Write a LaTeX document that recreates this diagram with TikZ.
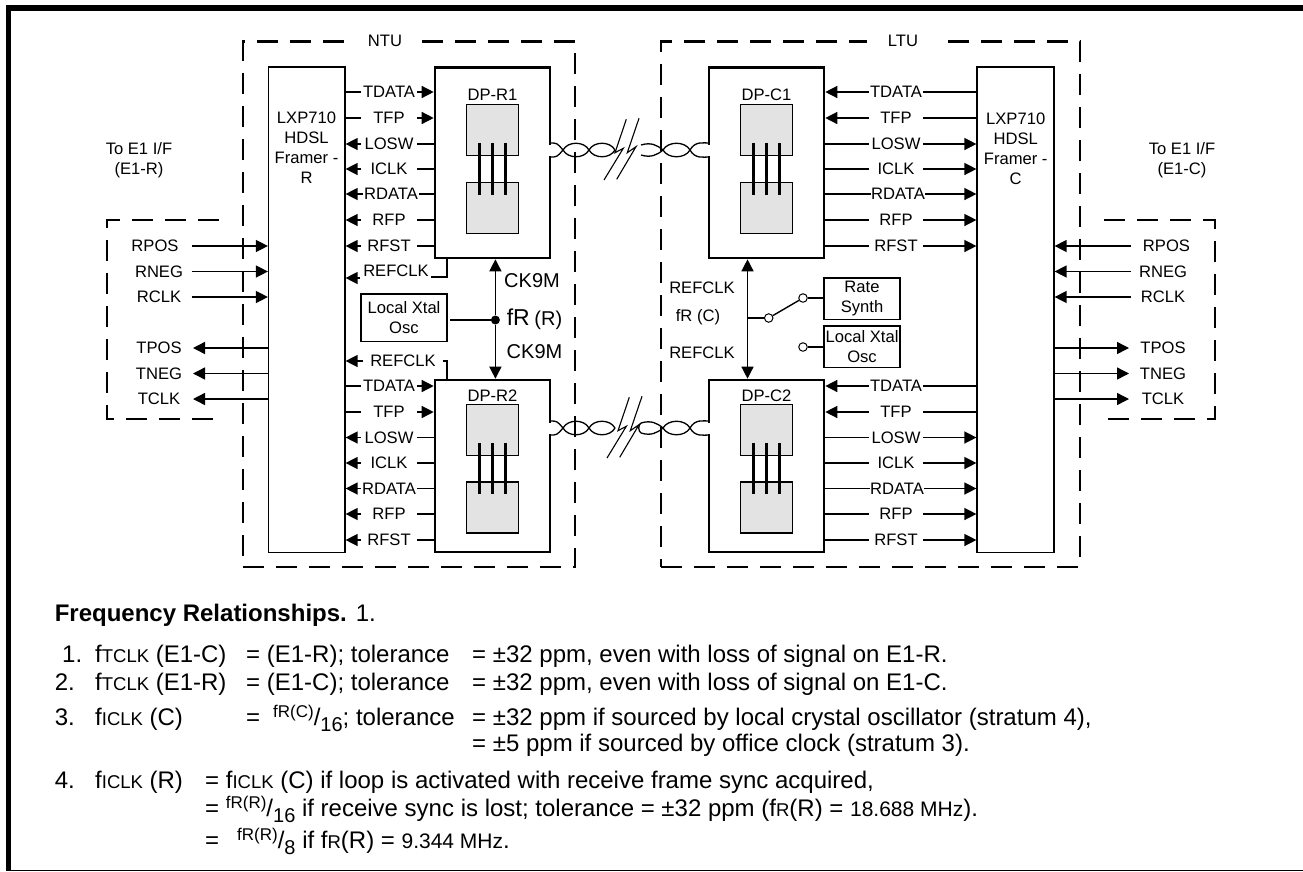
\documentclass[tikz,border=0pt]{standalone}
\usepackage{fontspec}
\setmainfont{Liberation Sans}
\usetikzlibrary{arrows.meta,
                positioning}
\newcommand{\labelfont}{\fontsize{16.6}{20}\selectfont}
\newcommand{\notefont}{\fontsize{24}{28}\selectfont}
\newcommand{\smallnote}[1]{{\fontsize{18.5}{28}\selectfont #1}}
\newcommand{\freqnote}[1]{{\fontsize{21}{28}\selectfont #1}}
\newcommand{\ratio}[2]{\raisebox{8pt}{\fontsize{17}{20}\selectfont #1}/\raisebox{-6pt}{\fontsize{20}{20}\selectfont #2}}
\tikzset{arrow/.style = {draw, line width=1.4pt, -{Triangle[length=12pt,width=12pt]}}}
\tikzset{double-arrow/.style =
   {draw,
    line width=1.4pt,
    {Triangle[length=12pt,width=12pt]}-{Triangle[length=12pt,width=12pt]}}}
\tikzset{wire/.style = {draw, line width=1.4pt}}
\tikzset{group-box/.style =
   {rectangle,
    draw,
    line width=2.2pt,
    dash pattern=on 21pt off 12pt}}
\tikzset{group-line/.style =
   {draw,
    line width=2.2pt,
    dash pattern=on 21pt off 12pt}}
\tikzset{framer/.style =
   {rectangle,
    draw,
    line width=1.2pt,
    minimum height=485.5pt}}
\tikzset{dp-block/.style =
   {rectangle,
    draw,
    line width=2.6pt,
    minimum width=115pt}}
\tikzset{chip/.style =
   {rectangle,
    draw,
    fill=black!11,
    line width=1.2pt,
    minimum width=52pt,
    minimum height=51pt}}
\tikzset{pin/.style = {draw, line width=2.2pt}}
\tikzset{source/.style =
   {rectangle,
    draw,
    line width=1.2pt,
    align=center,
    inner sep=0pt,
    font=\labelfont}}
\tikzset{text-label/.style = {inner sep=0pt, align=center, font=\labelfont}}
\tikzset{signal-label/.style =
   {inner sep=0pt,
    minimum width=56pt,
    text height=11.9pt,
    text depth=0pt,
    font=\labelfont}}
\tikzset{signal-labelC/.style = {signal-label, minimum width=54pt}}
\tikzset{terminal/.style = {circle, draw, line width=1pt, inner sep=0pt, minimum size=8.5pt}}
\tikzset{note/.style = {anchor=base west, inner sep=0pt, font=\notefont}}
\tikzset{twist-left/.pic = {
    \draw [white, line width=4pt] (0,-5.5) -- (0,5.5);
    \draw [line width=1.3pt] (0,-7) .. controls (7,-7) .. (13,0) .. controls (18,9) and (34,9) .. (39,0)
                             .. controls (44,-9) and (60,-9) .. (65,0);
    \draw [line width=1.3pt] (0,7) .. controls (7,7) .. (13,0) .. controls (18,-9) and (34,-9) .. (39,0)
                             .. controls (44,9) and (60,9) .. (65,0);}}
\tikzset{twist-right/.pic = {
    \draw [white, line width=4pt] (0,-5.5) -- (0,5.5);
    \draw [line width=1.3pt] (-68,-5) .. controls (-58,-8) and (-52,-5) .. (-46,0) .. controls (-41,9) and (-24,9) .. (-19,0)
                             .. controls (-14,-9) and (-6,-7) .. (0,-7);
    \draw [line width=1.3pt] (-68,5) .. controls (-58,8) and (-52,5) .. (-46,0) .. controls (-41,-9) and (-24,-9) .. (-19,0)
                             .. controls (-14,9) and (-6,7) .. (0,7);}}
\tikzset{bolt/.pic = {
    \draw [line width=1.1pt] (12.3,-30.7) -- (1,2.7) -- (9.3,-1.7) -- (-10,30);
    \draw [line width=1.1pt] (25,-31.7) -- (13.3,2.7) -- (22,-3.3) -- (2.7,29.3);}}

\begin{document}
\begin{tikzpicture}[x=1pt, y=-1pt]

    \useasboundingbox (0,0) rectangle (1303,871);

    % outer frame
    \fill (6,5) rectangle (1303,10.7);
    \fill (6,5) rectangle (11,871);
    \fill (6,869.5) rectangle (1303,871);

    % dashed groups
    \node [group-box, minimum width=332pt, minimum height=525.5pt] (ntu) at (409,304.25) {};
    \node [group-box, minimum width=419pt, minimum height=525.5pt] (ltu) at (870.5,304.25) {};
    \node [text-label, fill=white, minimum width=74pt, minimum height=8pt] (ntuLabel) at (385,41) {NTU};
    \node [text-label, fill=white, minimum width=72pt, minimum height=8pt] (ltuLabel) at (903,41) {LTU};
    \draw [group-line] (219,220) -| (107,419) -- (219,419);
    \draw [group-line] (1104,220) -| (1215,419) -- (1104,419);

    \node [text-label] (toE1R) at (139,160) {To E1 I/F\\(E1-R)};
    \node [text-label] (toE1C) at (1182,160) {To E1 I/F\\(E1-C)};

    % framers
    \node [framer, minimum width=76.5pt] (framerR) at (306.75,309.75) {};
    \node [framer, minimum width=77pt] (framerC) at (1015.5,309.75) {};
    \node [text-label] (framerRText) at (306.5,148) {LXP710\\HDSL\\Framer -\\R};
    \node [text-label] (framerCText) at (1015.7,148.5) {LXP710\\HDSL\\Framer -\\C};

    % data pumps
    \node [dp-block, minimum height=190.5pt] (dpR1) at (492.5,162.75) {};
    \node [dp-block, minimum height=172pt] (dpR2) at (492.5,466) {};
    \node [dp-block, minimum height=190.5pt] (dpC1) at (766.5,162.75) {};
    \node [dp-block, minimum height=172pt] (dpC2) at (766.5,466) {};

    \node [text-label, below = 23pt of dpR1.north] (dpR1Label) {DP-R1};
    \node [text-label, below = 11pt of dpR2.north] (dpR2Label) {DP-R2};
    \node [text-label, below = 23pt of dpC1.north] (dpC1Label) {DP-C1};
    \node [text-label, below = 11pt of dpC2.north] (dpC2Label) {DP-C2};

    \node [chip, below = 38pt of dpR1.north] (chipR1a) {};
    \node [chip, below = 25.5pt of chipR1a] (chipR1b) {};
    \node [chip, below = 25.5pt of dpR2.north] (chipR2a) {};
    \node [chip, below = 25pt of chipR2a] (chipR2b) {};
    \node [chip, below = 38pt of dpC1.north] (chipC1a) {};
    \node [chip, below = 25.5pt of chipC1a] (chipC1b) {};
    \node [chip, below = 25.5pt of dpC2.north] (chipC2a) {};
    \node [chip, below = 25pt of chipC2a] (chipC2b) {};

    \draw [pin] ([xshift=-13pt,yshift=13.5pt]chipR1a.south) -- ([xshift=-13pt,yshift=-13pt]chipR1b.north);
    \draw [pin] ([yshift=13.5pt]chipR1a.south) -- ([yshift=-13pt]chipR1b.north);
    \draw [pin] ([xshift=13pt,yshift=13.5pt]chipR1a.south) -- ([xshift=13pt,yshift=-13pt]chipR1b.north);
    \draw [pin] ([xshift=-13pt,yshift=13.5pt]chipR2a.south) -- ([xshift=-13pt,yshift=-13pt]chipR2b.north);
    \draw [pin] ([yshift=13.5pt]chipR2a.south) -- ([yshift=-13pt]chipR2b.north);
    \draw [pin] ([xshift=13pt,yshift=13.5pt]chipR2a.south) -- ([xshift=13pt,yshift=-13pt]chipR2b.north);
    \draw [pin] ([xshift=-13pt,yshift=13.5pt]chipC1a.south) -- ([xshift=-13pt,yshift=-13pt]chipC1b.north);
    \draw [pin] ([yshift=13.5pt]chipC1a.south) -- ([yshift=-13pt]chipC1b.north);
    \draw [pin] ([xshift=13pt,yshift=13.5pt]chipC1a.south) -- ([xshift=13pt,yshift=-13pt]chipC1b.north);
    \draw [pin] ([xshift=-13pt,yshift=13.5pt]chipC2a.south) -- ([xshift=-13pt,yshift=-13pt]chipC2b.north);
    \draw [pin] ([yshift=13.5pt]chipC2a.south) -- ([yshift=-13pt]chipC2b.north);
    \draw [pin] ([xshift=13pt,yshift=13.5pt]chipC2a.south) -- ([xshift=13pt,yshift=-13pt]chipC2b.north);

    % twisted pairs
    \pic (twistR1) at (550,150) {twist-left};
    \pic (twistR2) at (550,428) {twist-left};
    \pic (twistC1) at (709,150) {twist-right};
    \pic (twistC2) at (709,428) {twist-right};
    \draw [line width=1.3pt] (641,423) .. controls (638,425) and (638,431) .. (641,433);
    \pic (boltUpper) at (614,150) {bolt};
    \pic (boltLower) at (617,428) {bolt};

    % DP-R1 rows
    \node [signal-label] (tdataR1) at (389,92) {TDATA};
    \draw [wire] (framerR.east |- tdataR1) -- (tdataR1);
    \draw [arrow] (tdataR1) -- (dpR1.west |- tdataR1);
    \node [signal-label] (tfpR1) at (389,118) {TFP};
    \draw [wire] (framerR.east |- tfpR1) -- (tfpR1);
    \draw [arrow] (tfpR1) -- (dpR1.west |- tfpR1);
    \node [signal-label] (loswR1) at (389,144) {LOSW};
    \draw [wire] (dpR1.west |- loswR1) -- (loswR1);
    \draw [arrow] (loswR1) -- (framerR.east |- loswR1);
    \node [signal-label] (iclkR1) at (389,169) {ICLK};
    \draw [wire] (dpR1.west |- iclkR1) -- (iclkR1);
    \draw [arrow] (iclkR1) -- (framerR.east |- iclkR1);
    \node [signal-label] (rdataR1) at (391,194) {RDATA};
    \draw [wire] (dpR1.west |- rdataR1) -- (rdataR1);
    \draw [arrow] (rdataR1) -- (framerR.east |- rdataR1);
    \node [signal-label] (rfpR1) at (389,220) {RFP};
    \draw [wire] (dpR1.west |- rfpR1) -- (rfpR1);
    \draw [arrow] (rfpR1) -- (framerR.east |- rfpR1);
    \node [signal-label] (rfstR1) at (389,246) {RFST};
    \draw [wire] (dpR1.west |- rfstR1) -- (rfstR1);
    \draw [arrow] (rfstR1) -- (framerR.east |- rfstR1);

    % DP-R2 rows
    \node [signal-label] (tdataR2) at (389,386) {TDATA};
    \draw [wire] (framerR.east |- tdataR2) -- (tdataR2);
    \draw [arrow] (tdataR2) -- (dpR2.west |- tdataR2);
    \node [signal-label] (tfpR2) at (389,412) {TFP};
    \draw [wire] (framerR.east |- tfpR2) -- (tfpR2);
    \draw [arrow] (tfpR2) -- (dpR2.west |- tfpR2);
    \node [signal-label] (loswR2) at (389,437.5) {LOSW};
    \draw [wire] (dpR2.west |- loswR2) -- (loswR2);
    \draw [arrow] (loswR2) -- (framerR.east |- loswR2);
    \node [signal-label] (iclkR2) at (389,463) {ICLK};
    \draw [wire] (dpR2.west |- iclkR2) -- (iclkR2);
    \draw [arrow] (iclkR2) -- (framerR.east |- iclkR2);
    \node [signal-label] (rdataR2) at (389,488.5) {RDATA};
    \draw [wire] (dpR2.west |- rdataR2) -- (rdataR2);
    \draw [arrow] (rdataR2) -- (framerR.east |- rdataR2);
    \node [signal-label] (rfpR2) at (389,514) {RFP};
    \draw [wire] (dpR2.west |- rfpR2) -- (rfpR2);
    \draw [arrow] (rfpR2) -- (framerR.east |- rfpR2);
    \node [signal-label] (rfstR2) at (389,540) {RFST};
    \draw [wire] (dpR2.west |- rfstR2) -- (rfstR2);
    \draw [arrow] (rfstR2) -- (framerR.east |- rfstR2);

    % DP-C1 rows
    \node [signal-labelC] (tdataC1) at (896,92) {TDATA};
    \draw [wire] (framerC.west |- tdataC1) -- (tdataC1);
    \draw [arrow] (tdataC1) -- (dpC1.east |- tdataC1);
    \node [signal-labelC] (tfpC1) at (896,118) {TFP};
    \draw [wire] (framerC.west |- tfpC1) -- (tfpC1);
    \draw [arrow] (tfpC1) -- (dpC1.east |- tfpC1);
    \node [signal-labelC] (loswC1) at (896,144) {LOSW};
    \draw [wire] (dpC1.east |- loswC1) -- (loswC1);
    \draw [arrow] (loswC1) -- (framerC.west |- loswC1);
    \node [signal-labelC] (iclkC1) at (896,169) {ICLK};
    \draw [wire] (dpC1.east |- iclkC1) -- (iclkC1);
    \draw [arrow] (iclkC1) -- (framerC.west |- iclkC1);
    \node [signal-labelC] (rdataC1) at (898,194) {RDATA};
    \draw [wire] (dpC1.east |- rdataC1) -- (rdataC1);
    \draw [arrow] (rdataC1) -- (framerC.west |- rdataC1);
    \node [signal-labelC] (rfpC1) at (896,220) {RFP};
    \draw [wire] (dpC1.east |- rfpC1) -- (rfpC1);
    \draw [arrow] (rfpC1) -- (framerC.west |- rfpC1);
    \node [signal-labelC] (rfstC1) at (896,246) {RFST};
    \draw [wire] (dpC1.east |- rfstC1) -- (rfstC1);
    \draw [arrow] (rfstC1) -- (framerC.west |- rfstC1);

    % DP-C2 rows
    \node [signal-labelC] (tdataC2) at (896,386) {TDATA};
    \draw [wire] (framerC.west |- tdataC2) -- (tdataC2);
    \draw [arrow] (tdataC2) -- (dpC2.east |- tdataC2);
    \node [signal-labelC] (tfpC2) at (896,412) {TFP};
    \draw [wire] (framerC.west |- tfpC2) -- (tfpC2);
    \draw [arrow] (tfpC2) -- (dpC2.east |- tfpC2);
    \node [signal-labelC] (loswC2) at (896,437.5) {LOSW};
    \draw [wire] (dpC2.east |- loswC2) -- (loswC2);
    \draw [arrow] (loswC2) -- (framerC.west |- loswC2);
    \node [signal-labelC] (iclkC2) at (896,463) {ICLK};
    \draw [wire] (dpC2.east |- iclkC2) -- (iclkC2);
    \draw [arrow] (iclkC2) -- (framerC.west |- iclkC2);
    \node [signal-labelC] (rdataC2) at (897,488.5) {RDATA};
    \draw [wire] (dpC2.east |- rdataC2) -- (rdataC2);
    \draw [arrow] (rdataC2) -- (framerC.west |- rdataC2);
    \node [signal-labelC] (rfpC2) at (896,514) {RFP};
    \draw [wire] (dpC2.east |- rfpC2) -- (rfpC2);
    \draw [arrow] (rfpC2) -- (framerC.west |- rfpC2);
    \node [signal-labelC] (rfstC2) at (896,540) {RFST};
    \draw [wire] (dpC2.east |- rfstC2) -- (rfstC2);
    \draw [arrow] (rfstC2) -- (framerC.west |- rfstC2);

    % E1 side, R
    \coordinate (e1RStart) at (191.5,0);
    \coordinate (e1REnd) at (193,0);
    \node [text-label, text height=11.9pt] (rposR) at (155,246) {RPOS};
    \node [text-label, text height=11.9pt] (rnegR) at (159,271.5) {RNEG};
    \node [text-label, text height=11.9pt] (rclkR) at (159,297) {RCLK};
    \node [text-label, text height=11.9pt] (tposR) at (159,348) {TPOS};
    \node [text-label, text height=11.9pt] (tnegR) at (159,373.5) {TNEG};
    \node [text-label, text height=11.9pt] (tclkR) at (159,399) {TCLK};
    \draw [arrow] (e1RStart |- rposR) -- (framerR.west |- rposR);
    \draw [arrow] (e1RStart |- rnegR) -- (framerR.west |- rnegR);
    \draw [arrow] (e1RStart |- rclkR) -- (framerR.west |- rclkR);
    \draw [arrow] (framerR.west |- tposR) -- (e1REnd |- tposR);
    \draw [arrow] (framerR.west |- tnegR) -- (e1REnd |- tnegR);
    \draw [arrow] (framerR.west |- tclkR) -- (e1REnd |- tclkR);

    % E1 side, C
    \coordinate (e1CStart) at (1131,0);
    \coordinate (e1CEnd) at (1129,0);
    \node [text-label, text height=11.9pt] (rposC) at (1166.5,246) {RPOS};
    \node [text-label, text height=11.9pt] (rnegC) at (1163,271.5) {RNEG};
    \node [text-label, text height=11.9pt] (rclkC) at (1163,297) {RCLK};
    \node [text-label, text height=11.9pt] (tposC) at (1163,348) {TPOS};
    \node [text-label, text height=11.9pt] (tnegC) at (1163,373.5) {TNEG};
    \node [text-label, text height=11.9pt] (tclkC) at (1163,399) {TCLK};
    \draw [arrow] (e1CStart |- rposC) -- (framerC.east |- rposC);
    \draw [arrow] (e1CStart |- rnegC) -- (framerC.east |- rnegC);
    \draw [arrow] (e1CStart |- rclkC) -- (framerC.east |- rclkC);
    \draw [arrow] (framerC.east |- tposC) -- (e1CEnd |- tposC);
    \draw [arrow] (framerC.east |- tnegC) -- (e1CEnd |- tnegC);
    \draw [arrow] (framerC.east |- tclkC) -- (e1CEnd |- tclkC);

    % clocks, NTU
    \node [source, minimum width=86pt, minimum height=47.5pt] (xtalR) at (404,317.75) {Local Xtal\\Osc};
    \node [circle, fill, inner sep=0pt, minimum size=9pt] (dotR) at (495.4,320) {};
    \draw [wire] ([xshift=2.5pt]xtalR.east |- dotR) -- (dotR);
    \draw [arrow] (dotR) -- (dotR |- dpR1.south);
    \draw [arrow] (dotR) -- (dotR |- dpR2.north);
    \node [text-label, font=\fontsize{20}{24}\selectfont] (ck9mUpper) at (532,281) {CK9M};
    \node [text-label, font=\fontsize{20}{24}\selectfont] (ck9mLower) at (534.5,352) {CK9M};
    \node [text-label] (fR) at (534.5,319) {{\fontsize{23}{24}\selectfont fR} {\fontsize{20}{24}\selectfont (R)}};

    \node [text-label] (refclkR1) at (396,271) {REFCLK};
    \coordinate (refclkR1End) at (431,277);
    \coordinate (refclkR1Start) at (360,278);
    \draw [wire] ([xshift=-45.5pt]dpR1.south) |- (refclkR1End);
    \draw [arrow] (refclkR1Start) -- (framerR.east |- refclkR1Start);
    \node [signal-label, minimum width=79pt] (refclkR2) at (403,361) {REFCLK};
    \draw [wire] (refclkR2) -| ([xshift=-45.5pt]dpR2.north);
    \draw [arrow] (refclkR2) -- (framerR.east |- refclkR2);

    % clocks, LTU
    \coordinate (junctionC) at (747.5,318);
    \draw [double-arrow] (junctionC |- dpC1.south) -- (junctionC |- dpC2.north);
    \node [source, minimum width=76pt, minimum height=41.5pt] (rateSynth) at (862,298.75) {Rate\\Synth};
    \node [source, minimum width=76pt, minimum height=41.5pt] (xtalC) at (862,346.75) {Local Xtal\\Osc};
    \node [terminal] (switchIn) at (768.7,318) {};
    \node [terminal] (switchUp) at (803,298) {};
    \node [terminal] (switchLow) at (803,347) {};
    \draw [wire] (junctionC) -- (switchIn);
    \draw [wire] (switchIn) -- (switchUp);
    \draw [wire] (switchUp) -- (rateSynth.west |- switchUp);
    \draw [wire] (switchLow) -- (xtalC.west |- switchLow);
    \node [text-label] (refclkCUpper) at (702,288) {REFCLK};
    \node [text-label] (fC) at (698,317) {fR (C)};
    \node [text-label] (refclkCLower) at (702,353) {REFCLK};

    % frequency notes
    \node [note] (notesTitle) at (54.6,621.7) {\textbf{Frequency Relationships.} 1.};

    \node [note] (num1) at (62,662) {1.};
    \node [note] (lhs1) at (95,662) {f\smallnote{TCLK} (E1-C)};
    \node [note] (mid1) at (246,662) {= (E1-R); tolerance};
    \node [note] (rhs1) at (472,662) {= ±32 ppm, even with loss of signal on E1-R.};

    \node [note] (num2) at (54.6,690) {2.};
    \node [note] (lhs2) at (95,690) {f\smallnote{TCLK} (E1-R)};
    \node [note] (mid2) at (246,690) {= (E1-C); tolerance};
    \node [note] (rhs2) at (472,690) {= ±32 ppm, even with loss of signal on E1-C.};

    \node [note] (num3) at (54.6,725) {3.};
    \node [note] (lhs3) at (95,725) {f\smallnote{ICLK} (C)};
    \node [note] (mid3) at (246,725) {=};
    \node [note] (ratio3) at (273,725) {\ratio{fR(C)}{16}; tolerance};
    \node [note] (rhs3) at (472,725) {= ±32 ppm if sourced by local crystal oscillator (stratum 4),};
    \node [note] (rhs3b) at (472,751) {= ±5 ppm if sourced by office clock (stratum 3).};

    \node [note] (num4) at (54.6,788) {4.};
    \node [note] (lhs4) at (95,788) {f\smallnote{ICLK} (R)};
    \node [note] (rhs4) at (205,788) {= f\smallnote{ICLK} (C) if loop is activated with receive frame sync acquired,};
    \node [note] (rhs4b) at (205,816.7) {= \ratio{fR(R)}{16} if receive sync is lost; tolerance = ±32 ppm (f\smallnote{R}(R) = \freqnote{18.688 MHz}).};
    \node [note] (rhs4c) at (205,848) {=};
    \node [note] (ratio4) at (237,848) {\ratio{fR(R)}{8} if f\smallnote{R}(R) = \freqnote{9.344 MHz}.};

\end{tikzpicture}
\end{document}
